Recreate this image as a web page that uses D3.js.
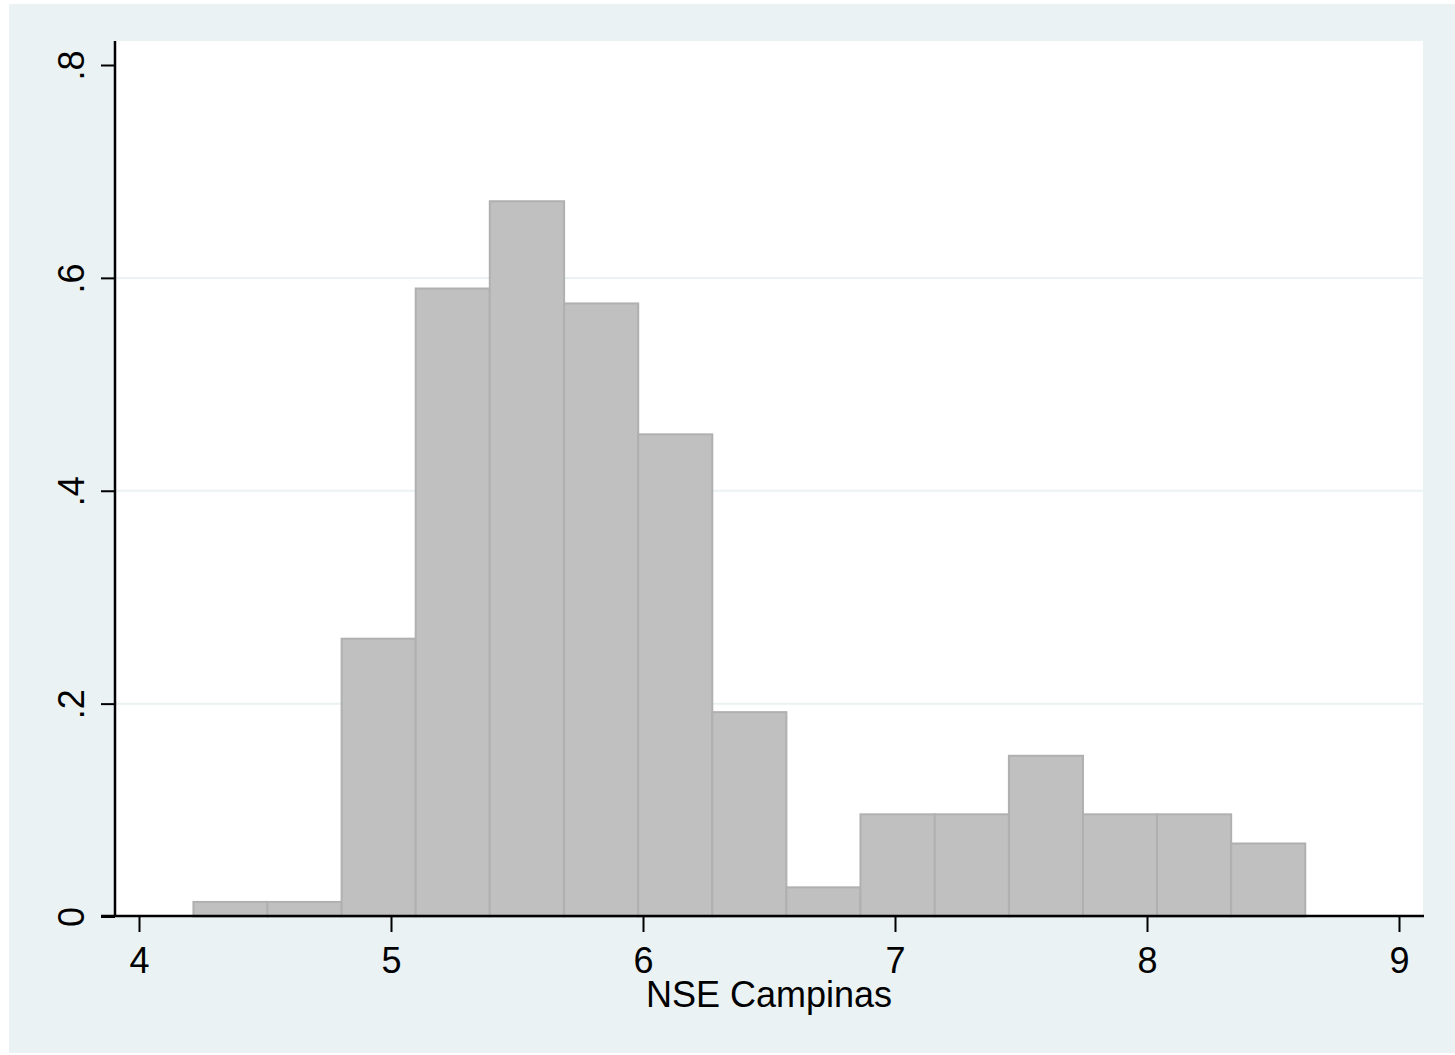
<!DOCTYPE html>
<html>
<head>
<meta charset="utf-8">
<script src="https://cdn.jsdelivr.net/npm/d3@7"></script>
<style>
  body { margin: 0; background: #ffffff; }
  text { font-family: "Liberation Sans", Arial, sans-serif; fill: #000; }
</style>
</head>
<body>
<div id="chart"></div>
<script>
// bin edges of the histogram (NSE Campinas)
const binEdges = [4.216, 4.510, 4.804, 5.098, 5.392, 5.687, 5.981, 6.275,
                  6.569, 6.863, 7.158, 7.452, 7.746, 8.040, 8.334, 8.628];
// density of each bin
const density = [0.0137, 0.0137, 0.261, 0.590, 0.672, 0.576, 0.453, 0.192,
                 0.0274, 0.096, 0.096, 0.151, 0.096, 0.096, 0.0686];
const xTicks = [4, 5, 6, 7, 8, 9];
const yTicks = [0, 0.2, 0.4, 0.6, 0.8];
const gridTicks = [0.2, 0.4, 0.6];
const xTitle = "NSE Campinas";

const svgWidth = 1455;
const svgHeight = 1055;
const plot = { left: 115, right: 1423, top: 41, bottom: 916 };

const svg = d3.select("#chart")
    .append("svg")
    .attr("width", svgWidth)
    .attr("height", svgHeight);

// outer graph region
svg.append("rect")
    .attr("x", 9).attr("y", 4)
    .attr("width", svgWidth - 9).attr("height", svgHeight - 6)
    .attr("fill", "#eaf2f3");

// plot region
svg.append("rect")
    .attr("x", plot.left).attr("y", plot.top)
    .attr("width", plot.right - plot.left).attr("height", plot.bottom - plot.top)
    .attr("fill", "#ffffff");

const xScale = d3.scaleLinear().domain([4, 9]).range([139, 1399]);
const yScale = d3.scaleLinear().domain([0, 0.8]).range([916.5, 65]);

// grid lines
svg.append("g")
    .selectAll("line")
    .data(gridTicks)
    .enter()
    .append("line")
    .attr("x1", plot.left).attr("x2", plot.right)
    .attr("y1", d => yScale(d)).attr("y2", d => yScale(d))
    .attr("stroke", "#eaf2f3")
    .attr("stroke-width", 2);

// bars
const bins = density.map((d, i) => ({ x0: binEdges[i], x1: binEdges[i + 1], y: d }));

svg.append("g")
    .selectAll("rect")
    .data(bins)
    .enter()
    .append("rect")
    .attr("x", d => xScale(d.x0))
    .attr("width", d => xScale(d.x1) - xScale(d.x0))
    .attr("y", d => yScale(d.y))
    .attr("height", d => yScale(0) - yScale(d.y))
    .attr("fill", "#c0c0c0")
    .attr("stroke", "#b0b0b0")
    .attr("stroke-width", 2);

// x axis
const xAxis = d3.axisBottom(xScale).tickValues(xTicks).tickSize(16).tickSizeOuter(0)
    .tickFormat(d3.format("d"));
const gx = svg.append("g")
    .attr("transform", `translate(0, ${plot.bottom})`)
    .call(xAxis);
gx.select(".domain").remove();
gx.selectAll(".tick line").attr("stroke", "#000").attr("stroke-width", 2);
gx.selectAll(".tick text")
    .attr("y", 57).attr("dy", null)
    .style("font-size", "36px")
    .style("font-family", "Liberation Sans, Arial, sans-serif");

svg.append("line")
    .attr("x1", 101).attr("x2", 1424)
    .attr("y1", plot.bottom).attr("y2", plot.bottom)
    .attr("stroke", "#000").attr("stroke-width", 2.5);

// y axis
const yAxis = d3.axisLeft(yScale).tickValues(yTicks).tickSize(14).tickSizeOuter(0)
    .tickFormat(d => d === 0 ? "0" : d3.format(".1f")(d).replace(/^0/, ""));
const gy = svg.append("g")
    .attr("transform", `translate(${plot.left}, 0)`)
    .call(yAxis);
gy.select(".domain").remove();
gy.selectAll(".tick line").attr("stroke", "#000").attr("stroke-width", 2);
gy.selectAll(".tick text")
    .attr("x", 0).attr("dy", null)
    .attr("transform", "translate(-31, 0) rotate(-90)")
    .attr("text-anchor", "middle")
    .style("font-size", "36px")
    .style("font-family", "Liberation Sans, Arial, sans-serif");

svg.append("line")
    .attr("x1", plot.left).attr("x2", plot.left)
    .attr("y1", plot.top).attr("y2", plot.bottom + 1)
    .attr("stroke", "#000").attr("stroke-width", 2.5);

// axis title
svg.append("text")
    .attr("text-anchor", "middle")
    .attr("x", 769)
    .attr("y", 1007)
    .style("font-size", "36px")
    .text(xTitle);
</script>
</body>
</html>
